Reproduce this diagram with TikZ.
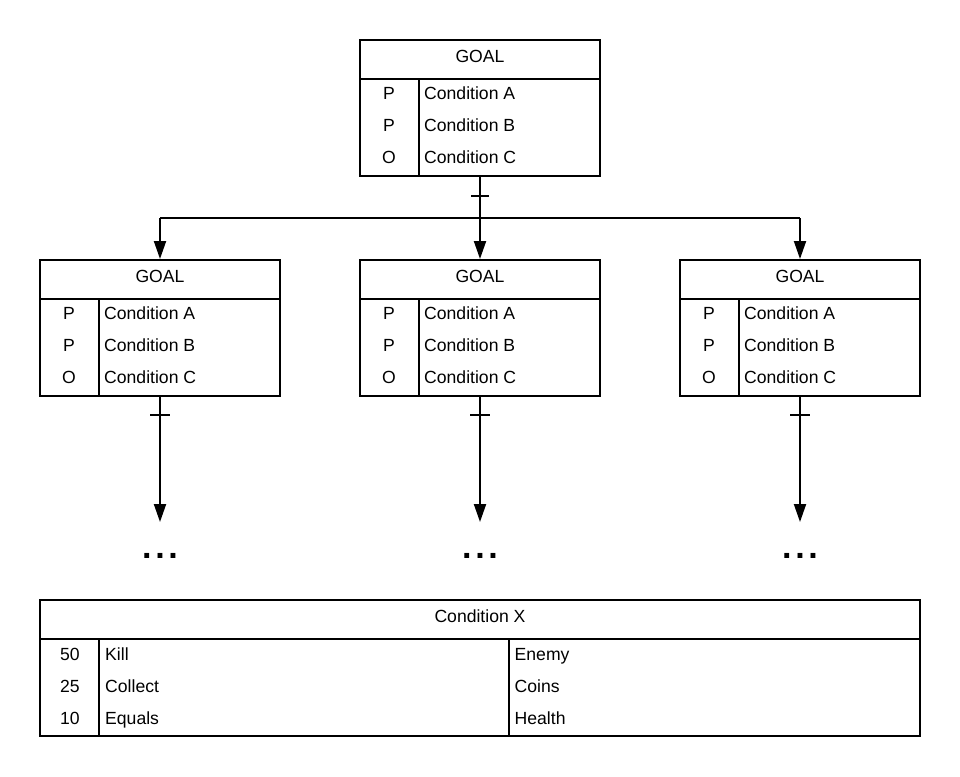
\documentclass[tikz,border=0pt]{standalone}
\usepackage{fontspec}
\setmainfont{Liberation Sans}
\usetikzlibrary{positioning, arrows.meta}

% one goal card: name, left x, top y
\newcommand{\goalcard}[3]{%
  \node[card] (#1) at (#2+120,#3+68) {};
  \draw[edge] ([yshift=-40pt]#1.north west) -- ([yshift=-40pt]#1.north east);
  \draw[edge] ([xshift=60pt,yshift=-40pt]#1.north west) -- ([xshift=60pt]#1.south west);
  \node[txt, anchor=base] (#1-title) at ([yshift=-23.5pt]#1.north) {GOAL};
  \node[txt, anchor=base] (#1-f1) at ([xshift=30pt,yshift=-60pt]#1.north west) {P};
  \node[txt, anchor=base] (#1-f2) at ([xshift=30pt,yshift=-92pt]#1.north west) {P};
  \node[txt, anchor=base] (#1-f3) at ([xshift=30pt,yshift=-124pt]#1.north west) {O};
  \node[txt, anchor=base west] (#1-c1) at ([xshift=65pt,yshift=-60pt]#1.north west) {Condition A};
  \node[txt, anchor=base west] (#1-c2) at ([xshift=65pt,yshift=-92pt]#1.north west) {Condition B};
  \node[txt, anchor=base west] (#1-c3) at ([xshift=65pt,yshift=-124pt]#1.north west) {Condition C};
}

\begin{document}
\begin{tikzpicture}[
  x=1pt, y=-1pt,
  card/.style={
    draw=black,
    line width=2pt,
    minimum width=240pt,
    minimum height=136pt,
    inner sep=0pt
  },
  edge/.style={
    line width=2pt
  },
  txt/.style={
    font=\fontsize{17.6}{20}\selectfont,
    inner sep=0pt
  },
  arrow/.style={
    -{Triangle[length=18pt,width=12pt]},
    line width=2pt
  },
  tick/.style={
    line width=2pt
  },
  more/.style={
    font=\fontsize{34}{34}\selectfont\bfseries,
    inner sep=0pt,
    anchor=base
  }
]

\fill[white] (0,0) rectangle (960,776);
\useasboundingbox (0,0) rectangle (960,776);

\goalcard{top}{360}{40}
\goalcard{left}{40}{260}
\goalcard{mid}{360}{260}
\goalcard{right}{680}{260}

% fork below the top goal
\coordinate (fork)  at (480,218);
\coordinate (forkL) at (160,218);
\coordinate (forkR) at (800,218);

\draw[edge] (top.south) -- (fork);
\draw[tick] (471,196) -- (489,196);
\draw[edge] (forkL) -- (forkR);
\draw[arrow] (forkL) -- (left.north);
\draw[arrow] (fork)  -- (mid.north);
\draw[arrow] (forkR) -- (right.north);

% open ends
\node[more] (moreL) at (160,558.5) {.\hspace{3.6pt}.\hspace{3.6pt}.};
\node[more] (moreM) at (480,558.5) {.\hspace{3.6pt}.\hspace{3.6pt}.};
\node[more] (moreR) at (800,558.5) {.\hspace{3.6pt}.\hspace{3.6pt}.};

\coordinate (endL) at (160,522);
\coordinate (endM) at (480,522);
\coordinate (endR) at (800,522);

\draw[arrow] (left.south)  -- (endL);
\draw[arrow] (mid.south)   -- (endM);
\draw[arrow] (right.south) -- (endR);
\draw[tick] (150,415) -- (170,415);
\draw[tick] (470,415) -- (490,415);
\draw[tick] (790,415) -- (810,415);

% condition table
\node[card, minimum width=880pt] (cond) at (480,668) {};
\draw[edge] ([yshift=-40pt]cond.north west) -- ([yshift=-40pt]cond.north east);
\draw[edge] ([xshift=60pt,yshift=-40pt]cond.north west) -- ([xshift=60pt]cond.south west);
\draw[edge] ([xshift=470pt,yshift=-40pt]cond.north west) -- ([xshift=470pt]cond.south west);
\node[txt, anchor=base] (cond-title) at ([yshift=-23.5pt]cond.north) {Condition X};

\node[txt, anchor=base] (w1) at (70,660) {50};
\node[txt, anchor=base] (w2) at (70,692) {25};
\node[txt, anchor=base] (w3) at (70,724) {10};
\node[txt, anchor=base west] (a1) at (105,660) {Kill};
\node[txt, anchor=base west] (a2) at (105,692) {Collect};
\node[txt, anchor=base west] (a3) at (105,724) {Equals};
\node[txt, anchor=base west] (o1) at (514.5,660) {Enemy};
\node[txt, anchor=base west] (o2) at (514.5,692) {Coins};
\node[txt, anchor=base west] (o3) at (514.5,724) {Health};

\end{tikzpicture}
\end{document}
